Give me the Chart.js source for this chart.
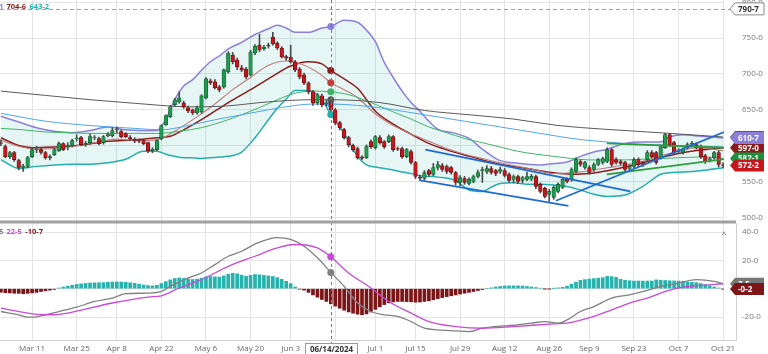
<!DOCTYPE html>
<html>
<head>
<meta charset="utf-8">
<script src="https://cdn.jsdelivr.net/npm/chart.js@4.4.1/dist/chart.umd.min.js"></script>
<style>
  html, body { margin: 0; padding: 0; background: #fff; overflow: hidden; }
  #wrap { position: relative; width: 768px; height: 354px; }
  #priceChart { position: absolute; left: 0; top: 0; }
  #macdChart { position: absolute; left: 0; top: 222px; }
</style>
</head>
<body>
<div id="wrap">
  <canvas id="priceChart" width="768" height="222"></canvas>
  <canvas id="macdChart" width="768" height="132"></canvas>
</div>
<script>
// trading days shown (index = position in this list)
const dates = ("Feb 29,Mar 1,Mar 4,Mar 5,Mar 6,Mar 7,Mar 8,Mar 11,Mar 12,Mar 13,Mar 14,Mar 15,Mar 18,Mar 19,Mar 20,Mar 21,Mar 22,Mar 25,Mar 26,Mar 27,Mar 28,Apr 1,Apr 2,Apr 3,Apr 4,Apr 5,Apr 8,Apr 9,Apr 10,Apr 11,Apr 12,Apr 15,Apr 16,Apr 17,Apr 18,Apr 19,Apr 22,Apr 23,Apr 24,Apr 25,Apr 26,Apr 29,Apr 30,May 1,May 2,May 3,May 6,May 7,May 8,May 9,May 10,May 13,May 14,May 15,May 16,May 17,May 20,May 21,May 22,May 23,May 24,May 28,May 29,May 30,May 31,Jun 3,Jun 4,Jun 5,Jun 6,Jun 7,Jun 10,Jun 11,Jun 12,Jun 13,Jun 14,Jun 17,Jun 18,Jun 20,Jun 21,Jun 24,Jun 25,Jun 26,Jun 27,Jun 28,Jul 1,Jul 2,Jul 3,Jul 5,Jul 8,Jul 9,Jul 10,Jul 11,Jul 12,Jul 15,Jul 16,Jul 17,Jul 18,Jul 19,Jul 22,Jul 23,Jul 24,Jul 25,Jul 26,Jul 29,Jul 30,Jul 31,Aug 1,Aug 2,Aug 5,Aug 6,Aug 7,Aug 8,Aug 9,Aug 12,Aug 13,Aug 14,Aug 15,Aug 16,Aug 19,Aug 20,Aug 21,Aug 22,Aug 23,Aug 26,Aug 27,Aug 28,Aug 29,Aug 30,Sep 3,Sep 4,Sep 5,Sep 6,Sep 9,Sep 10,Sep 11,Sep 12,Sep 13,Sep 16,Sep 17,Sep 18,Sep 19,Sep 20,Sep 23,Sep 24,Sep 25,Sep 26,Sep 27,Sep 30,Oct 1,Oct 2,Oct 3,Oct 4,Oct 7,Oct 8,Oct 9,Oct 10,Oct 11,Oct 14,Oct 15,Oct 16,Oct 17,Oct 18,Oct 21").split(",");
const tickLabels = ["Mar 11","Mar 25","Apr 8","Apr 22","May 6","May 20","Jun 3","Jun 17","Jul 1","Jul 15","Jul 29","Aug 12","Aug 26","Sep 9","Sep 23","Oct 7","Oct 21"];
const crossIdx = 74;            // Jun 14
const crossLabel = "06/14/2024";
const highLine = 790.7;
const priceTicks = [500, 550, 600, 650, 700, 750, 800];
const macdTicks = [-20, 0, 20, 40];

const opens = [
  604,598.6,584.7,590.3,579.2,569.4,571,584.7,594,594.4,
  590.3,583,587.5,593,602.8,598.5,600,609.7,611.1,601.5,
  604.2,611,609.7,604.2,614,613.9,622,619.5,616.7,611,
  608.5,607,606.9,604.2,593,594.4,609.7,629,640.3,657,
  661.1,659.7,652.8,650,645.8,647.2,666.7,690.3,688.9,681.9,
  681.9,702.8,726.4,719.4,708.3,706.9,698.6,729.2,740.3,735,
  740.3,751.4,743.1,736.1,724,723.6,716.7,706.9,698.6,687.5,
  675,659.7,669.4,658.3,659.7,650,632,622.2,611.1,600,
  595.8,583.5,583.3,605.6,597.2,611.1,605.6,605.6,612.5,595.8,
  595.8,584.7,591.7,576.4,556,554.1,565.3,559.7,569.4,572.2,
  570.8,569.4,562.5,548.6,554.1,547.2,550,556.9,565,563.9,
  568,565.3,563.9,565.3,559.7,552.8,556.9,551.4,552.8,553,
  556.9,545.8,540.3,531.9,527.8,536.1,541.7,552.8,552.8,563.9,
  577.8,569.4,569.4,566.7,573.6,576.4,577.8,594.4,580.5,577.8,
  576.4,568,570.8,580.5,576.4,580.5,590.3,590.3,583.3,597.2,
  615.3,604.2,592,590.3,597.2,601.5,601.4,598.6,586.1,580,
  583.3,590.3,573];
const highs = [
  608,601,592,592,581,574,585,597,599,597,
  592,587,596,605,604,604,609,615,613,606,
  616,614,612,614,618,625,626,622,618,614,
  611,609,609,605,597,608,629,643,656,666,
  675,662,655,651,655,671,695,693,692,684,
  707,731,730,722,712,709,733,741,755.5,740,
  743,758,745,738,726,740,719,709,701,689,
  677,673,672,663,662,652,634,624,613,602,
  598,586,601,608,614,614,607,615,614,598,
  598,596,594,578,559,565,567,575,578,575,
  573,571,564,558,557,555,559,566,570,572,
  571,567,570,568,562,559,559,557,563,560,
  559,548,542,539,544,548,555,555,569,583,
  580,578,572,576,582,584,597,596,583,580,
  578,573,583,583,578,593,593,592,601,617,
  617,606,596,597,604,606,604,601,588,584,
  592,593,576];
const lows = [
  600,583,582,578,566,564,569,583,590,588,
  581,580,586,592,593,594,598,606,600,599,
  602,608,601,602,612,612,618,611,611,607,
  604,604,601,590,590,593,608,628,639,655,
  659,652,646,643,644,645,665,685,679,675,
  680,701,714,706,703,693,697,727,731,733,
  736,740,734,722,719,715,703,693,685,672,
  656,657,654,655,648,629,622,609,598,592,
  581,580,582,596,595,602,596,604,592,593,
  582,583,574,554,551,552,557,558,566,564,
  561,560,545,544,546,545,548,555,548.6,561,
  560,558,561,556,549,548,547,548,551,551,
  540,534,527,522,525,534,540,548,550,562,
  571,567,560,564,572,574,576,571,574,573,
  564,566,569,571,571,578,583,574,581,596,
  599,588,589,588,595,599,595,582,575,577,
  581,570,569];
const closes = [
  603,584.7,590.3,580.5,569.4,571,583.3,594.4,595,590.3,
  583.3,584.5,594.4,602.8,594.4,600,606.9,610.5,601.4,603,
  612.5,612,602.8,612.5,615.3,620.8,623,612.5,612.5,609.5,
  606.5,606,602.8,593,595,606.9,627.8,642,654.2,663.9,
  666.7,654.2,648.6,645.8,652.8,669.4,693.1,687.5,680.5,677.8,
  705.6,729.2,716.7,709.7,705.6,695.8,730.6,738.9,733.3,737.5,
  739,741.7,736.1,723.6,722,716.7,705.6,695.8,687.5,675,
  659.7,670.8,656.9,659.7,650,632,625,611.1,601.4,594.4,
  583.3,582.5,598.6,598.6,612.5,604.2,598.6,612.5,594.4,595,
  584.7,594.4,576.4,556.9,554.5,562.5,559.7,569.4,573.6,566.7,
  563.9,562.5,548.6,555.5,548.6,552.8,556.9,562.5,566.5,568,
  562.5,561.1,566.7,558.3,551.4,556.9,550,555.5,556.9,557,
  543,536.1,529.2,536.1,541.7,545.8,552.8,550,566.7,580.5,
  573.6,576.4,562.5,573.6,580.5,581.9,594.4,573.6,576.4,575,
  566.7,570.8,580.5,573.6,573.6,590.3,584.7,576.4,598.6,615.3,
  601.4,590.3,593.5,594.4,601.4,603.5,597.2,584.7,577.8,581.5,
  590.3,573.6,572.2];

// Bollinger bands at these days
const bandDays = [0,4,8,12,16,20,24,28,32,35,37,39,41,43,45,47,49,51,54,57,60,62,64,66,69,72,74,77,80,82,84,86,88,90,92,94,96,98,102,105,108,110,112,115,118,121,124,127,130,133,136,140,144,148,150,153,157,162];
const upperBand = [641,633,625,620,618,621,626,622,621,621, 637,664,683,692,705,717,725,735,744,755, 763,768,764,758,758,764,766.1,775,772,761, 745,716,695,676,660,648,634,623,617,610, 595,586,579,576,574,573,575,577,585,591, 595,603,605,605,612,615,613,610.7];
const lowerBand = [580.5,568,571,573,574,574,576,581,592,592, 588,585,583,583,582,583,584,585,591,611, 636,652,665,677,677,664,643.2,617,585,573, 570,568,566,563,561,558,557,556,551,538, 536,542,547,548,546,546,545,543,538,532, 529,531,543,560,562,563,565,569];

// moving averages
const midDays = [0,4,7,12,17,24,30,35,38,41,46,51,56,61,65,69,72,74,77,80,84,88,92,96,100,104,108,112,116,120,124,128,132,136,140,144,148,152,156,162];
const midBand = [611,600,597,598,600,606,608,611,613,622, 640,660,678,697,711,717,714,704.6,693,680, 648,630,616,603,594,587,580,574,570,566, 562,560,561,565,570,576,583,589,593,597];
const emaDays = [0,4,8,14,20,26,32,36,40,44,48,52,56,60,64,68,72,74,77,80,84,88,92,96,100,104,108,112,116,120,124,128,132,136,140,144,148,152,156,162];
const emaLine = [607,599,595,597,603,609,607,610,624,640, 658,678,695,712,718,712,698,687.5,678,667, 644,628,616,606,596,588,582,576,571,566, 561,562,565,569,573,578,586,592,597,593];
const sma50Days = [0,5,10,15,20,25,30,35,40,45,50,54,58,62,66,70,74,78,83,88,92,96,100,104,108,112,116,120,124,128,132,136,140,144,148,152,157,162];
const sma50 = [624,622,619,618,617,617,617,617,620,625, 634,643,653,664,673,676,675,671,660,647, 637,626,618,610,604,598,592,588,585,582, 580,580,580,581,582,583,584,582.1];
const sma100Days = [0,10,20,30,36,42,48,54,60,66,70,74,80,86,92,98,104,110,116,122,128,134,140,146,152,158,162];
const sma100 = [645,634,628,624,622,628,636,643,650,656, 658,658,656,652,646,640,634,628,622,616, 610,606,603,601,600,599,598];
const sma200Days = [0,10,20,30,36,42,50,60,70,74,85,95,105,115,125,135,145,155,162];
const sma200 = [676,670,664,659,656,654,655,661,664,664, 660,649,643,637,628,623,619,615,612];

// drawn trend lines [day, price]
const trendBlueUpper = [[95.2, 594.4], [141.2, 536]];
const trendBlueLower = [[94.1, 551.4], [127.3, 516]];
const trendBlueRise = [[124.5, 523], [162.2, 619]];
const trendGreenTop = [[135.9, 603], [162.2, 597]];
const trendGreenBottom = [[135.9, 559.7], [162.2, 581]];

// MACD panel
const macdDays = [0,4,6,7,10,13,17,21,25,28,33,36,38,42,45,48,51,54,57,62,65,68,71,74,77,80,83,86,89,92,95,98,102,105,108,111,115,119,122,125,127,130,133,137,141,145,148,152,156,160,162];
const macdLine = [-16.1,-18.4,-20.1,-20.1,-18.4,-16.1,-13.0,-9.0,-6.6,-3.5, -3.1,-1.9,1.6,7.6,11.1,17.0,22.9,26.4,31.5,36.0, 34.8,30.0,21.8,11.5,1.6,-10.1,-16.1,-18.4,-19.6,-23.2, -27.9,-29.1,-29.8,-30.3,-27.9,-26.6,-25.8,-24.3,-23.2,-24.3, -22.0,-16.1,-12.6,-6.6,-4.3,-1.2,1.6,4.0,6.4,5.2, 3.5];
const signalDays = [0,7,12,15,25,33,36,40,45,51,57,62,66,71,74,78,83,87,92,96,102,108,115,124,127,133,137,141,145,148,152,156,162];
const signalLine = [-13.7,-17.7,-18.4,-17.2,-10.1,-5.9,-5.0,0.5,6.4,15.8, 22.9,28.8,31.2,28.8,22.5,11.1,0.5,-9.0,-17.2,-23.2, -26.7,-27.9,-26.7,-24.8,-24.3,-19.6,-14.9,-10.1,-6.6,-3.1, 0.5,2.1,3.5];
const histogram = [
  -2.5,-2.8,-3.0,-3.2,-3.3,-3.5,-3.3,-3.0,-2.6,-2.0,
  -1.5,-1.0,-0.5,0.5,1.2,1.8,2.4,3.0,3.4,3.7,
  4.0,4.1,4.2,4.3,4.5,4.7,4.8,4.7,4.5,4.2,
  3.8,3.2,2.6,2.2,2.0,2.4,3.6,5.0,6.2,7.2,
  7.6,7.2,6.8,6.5,6.8,7.5,8.4,8.6,8.4,8.2,
  9.0,10.2,10.9,10.5,9.6,8.8,9.4,10.0,9.8,9.4,
  9.0,8.6,7.8,6.6,5.2,3.6,1.2,-0.3,-1.0,-2.6,
  -4.4,-6.0,-7.6,-9.0,-10.7,-12.3,-13.8,-15.2,-16.4,-17.3,
  -18.0,-18.4,-17.8,-16.4,-14.6,-12.8,-11.2,-10.0,-9.3,-9.0,
  -9.0,-9.1,-9.3,-9.5,-9.4,-9.0,-8.5,-7.8,-7.0,-6.3,
  -5.6,-5.0,-4.4,-3.8,-3.2,-2.6,-2.0,-1.3,-0.6,0.0,
  0.6,1.2,1.6,1.9,2.0,2.0,2.0,1.9,1.6,1.2,
  0.8,0.3,-0.1,-0.1,0.2,0.6,1.0,1.8,3.2,4.6,
  5.9,6.4,6.8,7.1,7.4,7.8,8.7,8.5,8.0,6.6,
  6.0,5.6,5.4,5.4,5.4,5.4,5.4,6.2,6.0,5.8,
  5.6,5.5,5.4,5.1,4.8,4.5,4.3,3.6,2.8,2.0,
  1.2,0.5,-0.2];

// ---------- helpers ----------
const FONT = "'Open Sans', 'Noto Sans', sans-serif";
const fmt = v => v.toFixed(1).replace('.', '-');
const pts = (xs, ys) => xs.map((x, i) => ({ x: x, y: ys[i] }));
const at = (xs, ys, d) => ys[xs.indexOf(d)];

const C = {
  upper: '#8b7fdc', lower: '#22b0ad', fill: 'rgba(40,178,172,0.12)',
  mid: '#8b1c1c', ema: '#c27b7b', sma50: '#3fb56a', sma100: '#4ea6ee', sma200: '#5a5a5a',
  up: '#1f9c50', upEdge: '#0e5a2b', down: '#c3171d', downEdge: '#6a0b0e',
  trendBlue: '#1f6bd4', trendGreen: '#2f9e3a',
  macd: '#808080', signal: '#c84ad8', histUp: '#26b3ad', histDown: '#7c1518'
};

function lineSet(xs, ys, color, width, extra) {
  return Object.assign({
    type: 'line', data: pts(xs, ys), borderColor: color, borderWidth: width,
    cubicInterpolationMode: 'monotone', fill: false, order: 3,
    pointRadius: c => (c.raw && c.raw.x === crossIdx ? 3.5 : 0),
    pointBackgroundColor: color, pointBorderWidth: 0, pointHoverRadius: 0
  }, extra || {});
}
function trendSet(seg, color) {
  return { type: 'line', data: seg.map(p => ({ x: p[0], y: p[1] })), borderColor: color,
    borderWidth: 1.8, pointRadius: 0, fill: false, order: -1, tension: 0 };
}
function tag(ctx, yc, text, fill, textColor, stroke) {
  const x0 = 730, x1 = 764, h = 12;
  ctx.beginPath();
  ctx.moveTo(x0, yc);
  ctx.lineTo(x0 + 5, yc - h / 2);
  ctx.lineTo(x1, yc - h / 2);
  ctx.lineTo(x1, yc + h / 2);
  ctx.lineTo(x0 + 5, yc + h / 2);
  ctx.closePath();
  ctx.fillStyle = fill; ctx.fill();
  if (stroke) { ctx.strokeStyle = stroke; ctx.lineWidth = 1; ctx.stroke(); }
  ctx.fillStyle = textColor;
  ctx.font = "bold 8px " + FONT;
  ctx.textAlign = 'left'; ctx.textBaseline = 'middle';
  ctx.fillText(text, x0 + 8, yc + 0.5);
}
// legend: first item right-aligned at the left edge (cut off), the rest follow
function legendRow(ctx, items, y) {
  ctx.font = "bold 7.5px " + FONT; ctx.textBaseline = 'middle';
  ctx.textAlign = 'right'; ctx.fillStyle = items[0][1];
  ctx.fillText(items[0][0], 3.5, y);
  ctx.textAlign = 'left';
  let x = 6.5;
  for (let i = 1; i < items.length; i++) {
    ctx.fillStyle = items[i][1];
    ctx.fillText(items[i][0], x, y);
    x += ctx.measureText(items[i][0]).width + 3.5;
  }
}

const xScale = (showGrid) => ({
  type: 'linear', min: -0.2, max: 162.2, offset: false,
  afterBuildTicks: s => { s.ticks = tickLabels.map(d => ({ value: dates.indexOf(d) })); },
  ticks: { display: false },
  grid: { display: showGrid, color: '#e4e4e4', drawTicks: false, offset: false },
  border: { display: false },
  afterFit: s => { s.height = 0; s.paddingLeft = 0; s.paddingRight = 0; }
});
const yScale = (min, max, ticks) => ({
  position: 'right', min: min, max: max,
  afterBuildTicks: s => { s.ticks = ticks.map(v => ({ value: v })); },
  ticks: { color: '#777', font: { family: FONT, size: 8 }, padding: 18, callback: v => fmt(v) },
  grid: { color: '#e4e4e4', drawTicks: false },
  border: { display: false },
  afterFit: s => { s.width = 44; s.paddingTop = 0; s.paddingBottom = 0; }
});

// ---------- price chart ----------
const candleDays = closes.map((c, i) => i);
const isUp = i => closes[i] >= opens[i];

const priceDecor = {
  id: 'priceDecor',
  afterDatasetsDraw(chart) {
    const { ctx, scales: { x, y } } = chart;
    ctx.save();
    ctx.lineWidth = 1;
    ctx.setLineDash([4, 3]);
    ctx.strokeStyle = '#a0a0a0';
    const hy = Math.round(y.getPixelForValue(highLine)) + 0.5;
    ctx.beginPath(); ctx.moveTo(0, hy); ctx.lineTo(731, hy); ctx.stroke();
    ctx.setLineDash([3, 3]);
    ctx.strokeStyle = '#7a7a7a';
    const cx = Math.round(x.getPixelForValue(crossIdx)) + 0.5;
    ctx.beginPath(); ctx.moveTo(cx, 0); ctx.lineTo(cx, chart.height); ctx.stroke();
    ctx.restore();
  },
  afterDraw(chart) {
    const { ctx, scales: { y } } = chart;
    ctx.save();
    ctx.strokeStyle = '#a0a0a0'; ctx.lineWidth = 1.5;
    ctx.beginPath(); ctx.moveTo(0, chart.height - 0.75); ctx.lineTo(736, chart.height - 0.75); ctx.stroke();
    legendRow(ctx, [
      [fmt(at(bandDays, upperBand, crossIdx)), C.upper],
      [fmt(at(midDays, midBand, crossIdx)), C.mid],
      [fmt(at(bandDays, lowerBand, crossIdx)), C.lower]
    ], 7);
    const yp = v => y.getPixelForValue(v);
    const last = a => a[a.length - 1];
    tag(ctx, yp(highLine), fmt(highLine), '#fff', '#333', '#8a8a8a');
    tag(ctx, yp(last(sma200)), fmt(last(sma200)), C.sma200, '#fff');
    tag(ctx, yp(last(midBand)), fmt(last(midBand)), C.mid, '#fff');
    tag(ctx, yp(last(sma50)), fmt(last(sma50)), '#1e8f3c', '#fff');
    tag(ctx, yp(last(closes)), fmt(last(closes)), '#c8161d', '#fff');
    tag(ctx, yp(last(upperBand)), fmt(last(upperBand)), C.upper, '#fff');
    ctx.restore();
  }
};

new Chart(document.getElementById('priceChart'), {
  type: 'bar',
  data: {
    datasets: [
      trendSet(trendBlueUpper, C.trendBlue),
      trendSet(trendBlueLower, C.trendBlue),
      trendSet(trendBlueRise, C.trendBlue),
      trendSet(trendGreenTop, C.trendGreen),
      trendSet(trendGreenBottom, C.trendGreen),
      {
        type: 'bar', order: 0, grouped: false, barThickness: 3.6,
        data: candleDays.map(i => ({ x: i, y: [opens[i], closes[i]] })),
        backgroundColor: candleDays.map(i => isUp(i) ? C.up : C.down),
        borderColor: candleDays.map(i => isUp(i) ? C.upEdge : C.downEdge),
        borderWidth: 0.7, borderSkipped: false
      },
      {
        type: 'bar', order: 1, grouped: false, barThickness: 1,
        data: candleDays.map(i => ({ x: i, y: [lows[i], highs[i]] })),
        backgroundColor: '#4a4a4a', borderWidth: 0
      },
      lineSet(sma200Days, sma200, C.sma200, 1),
      lineSet(sma100Days, sma100, C.sma100, 1),
      lineSet(sma50Days, sma50, C.sma50, 1),
      lineSet(emaDays, emaLine, C.ema, 1.1, { pointBackgroundColor: '#c03a3a' }),
      lineSet(midDays, midBand, C.mid, 1.5),
      lineSet(bandDays, upperBand, C.upper, 1.5, { order: 4, fill: '+1', backgroundColor: C.fill }),
      lineSet(bandDays, lowerBand, C.lower, 1.5, { order: 4 })
    ]
  },
  options: {
    responsive: false, animation: false, events: [],
    layout: { padding: 0, autoPadding: false },
    plugins: { legend: { display: false }, tooltip: { enabled: false } },
    scales: { x: xScale(true), y: yScale(493.4, 803.1, priceTicks) }
  },
  plugins: [priceDecor]
});

// ---------- MACD chart ----------
const macdDecor = {
  id: 'macdDecor',
  afterDatasetsDraw(chart) {
    const { ctx, chartArea: a, scales: { x } } = chart;
    const cx = Math.round(x.getPixelForValue(crossIdx)) + 0.5;
    ctx.save();
    ctx.setLineDash([3, 3]); ctx.strokeStyle = '#7a7a7a'; ctx.lineWidth = 1;
    ctx.beginPath(); ctx.moveTo(cx, 0); ctx.lineTo(cx, a.bottom + 4); ctx.stroke();
    ctx.restore();
  },
  afterDraw(chart) {
    const { ctx, chartArea: a, scales: { x, y } } = chart;
    ctx.save();
    ctx.strokeStyle = '#a0a0a0'; ctx.lineWidth = 1.5;
    ctx.beginPath(); ctx.moveTo(0, 0.75); ctx.lineTo(736, 0.75); ctx.stroke();
    ctx.strokeStyle = '#cfcfcf'; ctx.lineWidth = 1;
    ctx.beginPath(); ctx.moveTo(0, a.bottom + 0.5); ctx.lineTo(736.5, a.bottom + 0.5); ctx.lineTo(736.5, 1); ctx.stroke();
    // date labels
    ctx.font = "8px " + FONT; ctx.fillStyle = '#666';
    ctx.textAlign = 'center'; ctx.textBaseline = 'middle';
    tickLabels.forEach(d => ctx.fillText(d, x.getPixelForValue(dates.indexOf(d)), 127));
    // crosshair date box
    const cx = Math.round(x.getPixelForValue(crossIdx)) + 0.5;
    ctx.fillStyle = '#fff'; ctx.strokeStyle = '#9a9a9a';
    ctx.fillRect(cx - 26, 121, 52, 13); ctx.strokeRect(cx - 26, 121.5, 52, 13);
    ctx.fillStyle = '#333'; ctx.font = "bold 8px " + FONT;
    ctx.fillText(crossLabel, cx, 127.5);
    legendRow(ctx, [
      [fmt(at(macdDays, macdLine, crossIdx)), C.macd],
      [fmt(at(signalDays, signalLine, crossIdx)), C.signal],
      [fmt(histogram[crossIdx]), C.histDown]
    ], 10);
    ctx.fillStyle = '#555'; ctx.font = "8px " + FONT; ctx.textAlign = 'center';
    ctx.fillText('^', 724, 13);
    const yp = v => y.getPixelForValue(v);
    const last = arr => arr[arr.length - 1];
    tag(ctx, yp(last(macdLine)), fmt(last(macdLine)), '#777', '#fff');
    tag(ctx, yp(last(histogram)), fmt(last(histogram)), C.histDown, '#fff');
    ctx.restore();
  }
};

const macdX = xScale(true);
macdX.afterFit = s => { s.height = 14; s.paddingLeft = 0; s.paddingRight = 0; };

new Chart(document.getElementById('macdChart'), {
  type: 'bar',
  data: {
    datasets: [
      lineSet(signalDays, signalLine, C.signal, 1.3, { order: 0 }),
      lineSet(macdDays, macdLine, C.macd, 1.3, { order: 1 }),
      {
        type: 'bar', order: 2, grouped: false, barThickness: 3,
        data: histogram.map((v, i) => ({ x: i, y: v })),
        backgroundColor: histogram.map(v => v >= 0 ? C.histUp : C.histDown),
        borderWidth: 0
      }
    ]
  },
  options: {
    responsive: false, animation: false, events: [],
    layout: { padding: 0, autoPadding: false },
    plugins: { legend: { display: false }, tooltip: { enabled: false } },
    scales: { x: macdX, y: yScale(-36.2, 47.06, macdTicks) }
  },
  plugins: [macdDecor]
});
</script>
</body>
</html>
